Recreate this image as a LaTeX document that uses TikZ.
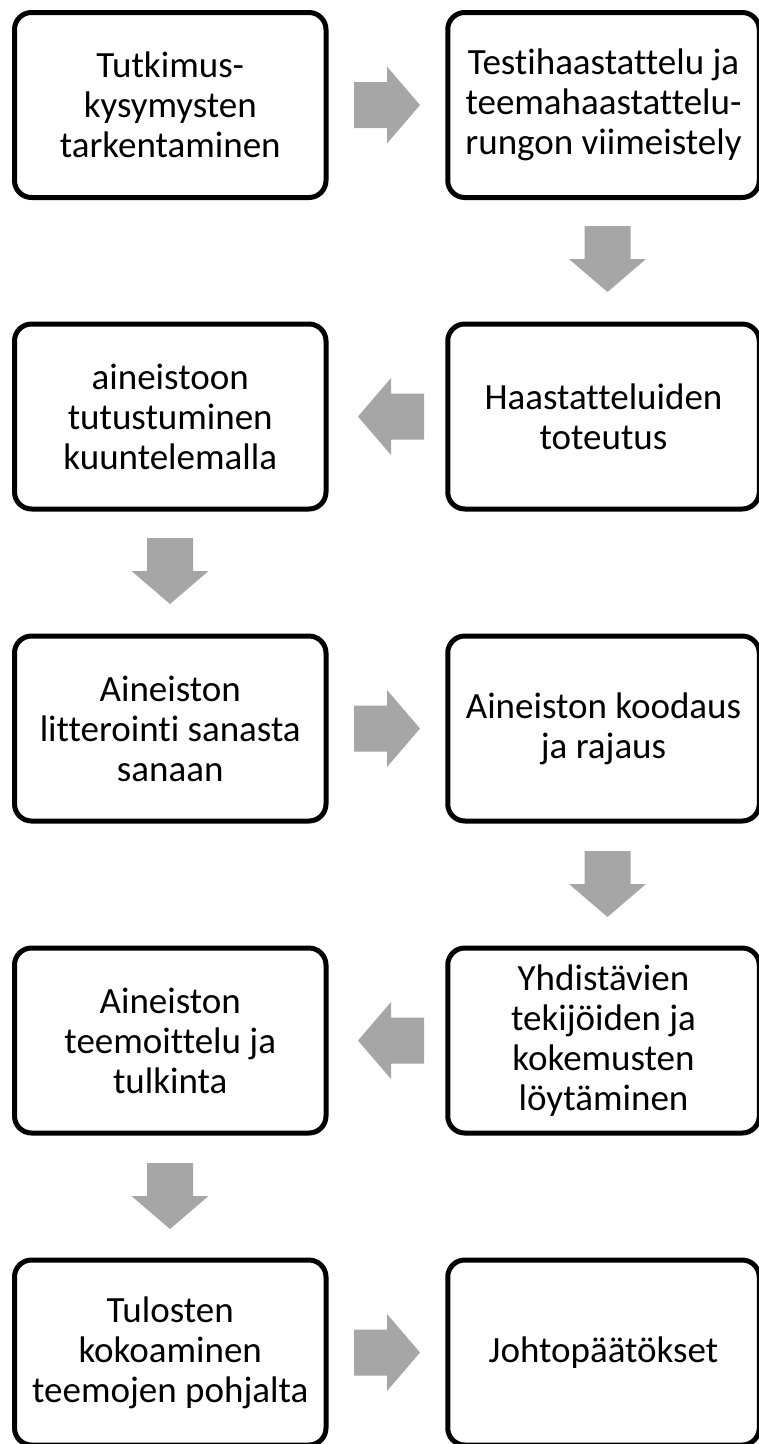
\documentclass[tikz,border=0pt]{standalone}
\usepackage{fontspec}
\setmainfont{Carlito}[Ligatures={NoCommon}]
\definecolor{arrowgray}{RGB}{166,166,166}
\begin{document}
\begin{tikzpicture}[x=1pt,y=-1pt,
  stepbox/.style={draw=black, line width=5pt, rounded corners=17pt, fill=white,
    minimum width=311.5pt, minimum height=185pt, inner sep=0pt, align=center,
    font=\fontsize{37}{40}\selectfont},
  blockarrow/.pic={\fill[arrowgray] (-33,-23) -- (0,-23) -- (0,-38.5) -- (33,0) -- (0,38.5) -- (0,23) -- (-33,23) -- cycle;}]
\useasboundingbox (0,0) rectangle (759,1444);
% boxes
\node[stepbox] (b1) at (170.25,105) {Tutkimus-\\kysymysten\\tarkentaminen};
\node[stepbox] (b2) at (603.5,105) {Testihaastattelu ja\\teemahaastattelu-\\rungon viimeistely};
\node[stepbox] (b3) at (603.5,416.5) {Haastatteluiden\\toteutus};
\node[stepbox] (b4) at (170.25,416.5) {aineistoon\\tutustuminen\\kuuntelemalla};
\node[stepbox] (b5) at (170.25,728.5) {Aineiston\\litterointi sanasta\\sanaan};
\node[stepbox] (b6) at (603.5,728.5) {Aineiston koodaus\\ja rajaus};
\node[stepbox] (b7) at (603.5,1040.5) {Yhdistävien\\tekijöiden ja\\kokemusten\\löytäminen};
\node[stepbox] (b8) at (170.25,1040.5) {Aineiston\\teemoittelu ja\\tulkinta};
\node[stepbox] (b9) at (170.25,1352.5) {Tulosten\\kokoaminen\\teemojen pohjalta};
\node[stepbox] (b10) at (603.5,1352.5) {Johtopäätökset};
% arrows
\pic at (387,105) {blockarrow};
\pic[rotate=-90] at (607.5,259) {blockarrow};
\pic[rotate=180] at (391,416.5) {blockarrow};
\pic[rotate=-90] at (170,571) {blockarrow};
\pic at (387,728.5) {blockarrow};
\pic[rotate=-90] at (607.5,884) {blockarrow};
\pic[rotate=180] at (391,1040.5) {blockarrow};
\pic[rotate=-90] at (170,1196) {blockarrow};
\pic at (387,1352.5) {blockarrow};
\end{tikzpicture}
\end{document}
